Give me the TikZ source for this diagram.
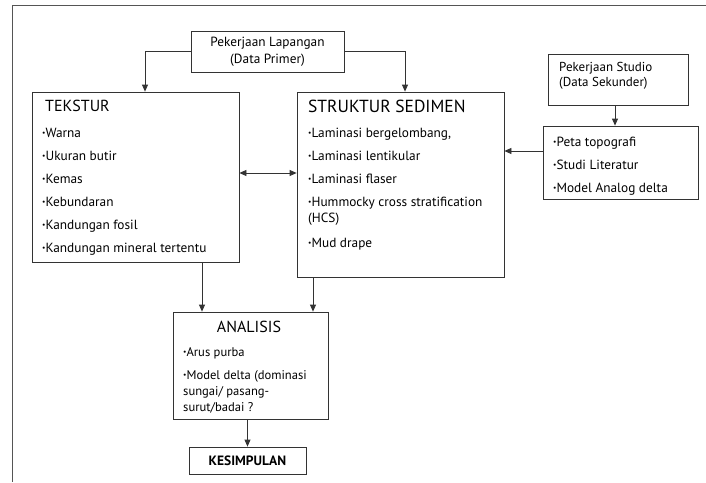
\documentclass[tikz,border=0pt]{standalone}
\usepackage{fontspec}
\setmainfont{PT Sans}
\usetikzlibrary{arrows.meta, positioning, calc}
\definecolor{linegray}{HTML}{333333}
\definecolor{framegray}{HTML}{555555}
\newcommand{\lbul}{{\fontsize{7.5}{7.5}\selectfont\raisebox{1.8pt}{•}}}

\begin{document}
\begin{tikzpicture}[
    x=1pt, y=-1pt,
    box/.style={draw=linegray, line width=0.8pt, inner sep=0pt},
    itemtext/.style={inner sep=0pt, anchor=north west, align=left, font=\fontsize{13.3}{16}\selectfont},
    titletext/.style={inner sep=0pt, font=\fontsize{16}{16}\selectfont},
    arrow/.style={-{Triangle[length=7pt, width=6pt]}, line width=0.8pt, draw=linegray},
    doublearrow/.style={{Triangle[length=7pt, width=6pt]}-{Triangle[length=7pt, width=6pt]}, line width=0.8pt, draw=linegray},
]
    \useasboundingbox (0,0) rectangle (706,482);

    % Frame
    \draw[framegray, line width=0.8pt] (706,5) -- (12,5) -- (12,482);

    % Field work
    \node[box, minimum width=153pt, minimum height=41pt, align=center, font=\fontsize{13.3}{17}\selectfont] (lap) at (267.5, 51.5) {Pekerjaan Lapangan\\(Data Primer)};

    % Studio work
    \node[box, minimum width=140pt, minimum height=51pt] (studio) at (618, 79.5) {};
    \node[inner sep=0pt, anchor=west, align=left, font=\fontsize{13}{15}\selectfont] (studiotxt) at (559, 76) {Pekerjaan Studio\\(Data Sekunder)};

    % Texture
    \node[box, minimum width=207pt, minimum height=170pt] (tek) at (135.5, 177) {};
    \node[titletext, anchor=west] (tektitle) at (45, 106) {TEKSTUR};
    \node[itemtext] (tekitems) at (42, 127.5) {\lbul Warna\\[7pt]\lbul Ukuran butir\\[7pt]\lbul Kemas\\[7pt]\lbul Kebundaran\\[7pt]\lbul Kandungan fosil\\[7pt]\lbul Kandungan mineral tertentu};

    % Sedimentary structure
    \node[box, minimum width=207pt, minimum height=185pt] (sed) at (400.5, 184.5) {};
    \node[titletext, anchor=west, font=\fontsize{17.5}{17.5}\selectfont] (sedtitle) at (308, 106) {STRUKTUR SEDIMEN};
    \node[itemtext] (seditems) at (308, 127.5) {\lbul Laminasi bergelombang,\\[7pt]\lbul Laminasi lentikular\\[7.5pt]\lbul Laminasi flaser\\[7pt]\lbul Hummocky cross stratification\\(HCS)\\[9pt]\lbul Mud drape};

    % Secondary data
    \node[box, minimum width=155pt, minimum height=73pt] (studlist) at (620.5, 162.5) {};
    \node[itemtext] (studitems) at (553, 137) {\lbul Peta topografi\\[7pt]\lbul Studi Literatur\\[7pt]\lbul Model Analog delta};

    % Analysis
    \node[box, minimum width=155pt, minimum height=107pt] (anl) at (250.5, 365.5) {};
    \node[titletext] (anltitle) at (249, 327) {ANALISIS};
    \node[itemtext, font=\fontsize{12.6}{16}\selectfont] (anlitems) at (183, 347.5) {\lbul Arus purba\\[7pt]\lbul Model delta (dominasi\\sungai/ pasang-\\surut/badai ?};

    % Conclusion
    \node[box, minimum width=117pt, minimum height=27pt, font=\fontsize{13.5}{13.5}\selectfont\bfseries] (kes) at (247.5, 460.5) {KESIMPULAN};

    % Connections
    \draw[arrow] (lap.west) -| ([xshift=9.5pt]tek.north);
    \draw[arrow] (lap.east) -| ([xshift=4.5pt]sed.north);
    \draw[doublearrow] ([yshift=4pt]tek.east) -- ([yshift=4pt]tek.east -| sed.west);
    \draw[arrow] ([xshift=-3pt]studio.south) -- ([xshift=-3pt]studio.south |- studlist.north);
    \draw[arrow] ([yshift=11.5pt]studlist.west) -- ([yshift=11.5pt]studlist.west -| sed.east);
    \draw[arrow] ([xshift=66.5pt]tek.south) -- ([xshift=66.5pt]tek.south |- anl.north);
    \draw[arrow] ([xshift=-87.5pt]sed.south) -- ([xshift=-87.5pt]sed.south |- anl.north);
    \draw[arrow] (kes.north |- anl.south) -- (kes.north);

\end{tikzpicture}
\end{document}
